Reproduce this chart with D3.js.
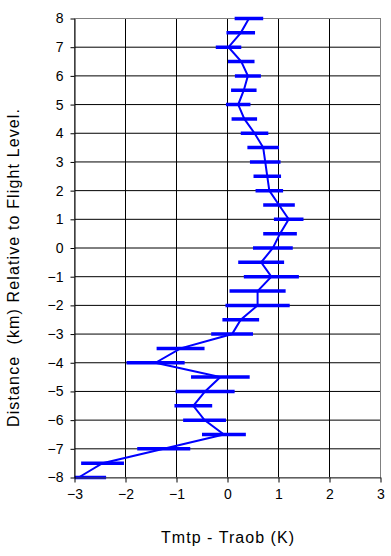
<!DOCTYPE html>
<html><head><meta charset="utf-8">
<script src="https://cdn.jsdelivr.net/npm/d3@7"></script>
<style>
html,body{margin:0;padding:0;background:#fff;}
svg{display:block;font-family:"Liberation Sans",Arial,sans-serif;}
</style></head>
<body><svg id="c" width="391" height="556"></svg>
<script>
// Distance (km) relative to flight level
const levels = [8,7.5,7,6.5,6,5.5,5,4.5,4,3.5,3,2.5,2,1.5,1,0.5,0,-0.5,-1,-1.5,-2,-2.5,-3,-3.5,-4,-4.5,-5,-5.5,-6,-6.5,-7,-7.5,-8];
// Mean Tmtp - Traob (K)
const meanDiff = [0.42,0.26,0.02,0.27,0.40,0.32,0.21,0.33,0.53,0.70,0.74,0.78,0.82,1.01,1.20,1.03,0.89,0.66,0.86,0.59,0.59,0.26,0.09,-0.92,-1.41,-0.14,-0.44,-0.67,-0.45,-0.07,-1.25,-2.45,-2.92];
// Half-width of the error bars (K)
const errHalf = [0.28,0.28,0.25,0.26,0.255,0.25,0.24,0.25,0.27,0.31,0.30,0.27,0.27,0.31,0.29,0.33,0.39,0.45,0.54,0.55,0.63,0.36,0.41,0.47,0.57,0.575,0.58,0.37,0.42,0.43,0.52,0.42,0.54];
const xTicks = [-3,-2,-1,0,1,2,3];
const yTicks = [-8,-7,-6,-5,-4,-3,-2,-1,0,1,2,3,4,5,6,7,8];

const svg = d3.select("#c");
const L=74.5, R=380.5, T=18.5, B=477.5;
const x = d3.scaleLinear().domain([-3,3]).range([L,R]);
const y = d3.scaleLinear().domain([-8,8]).range([B,T]);

// grid
const g = svg.append("g");
g.selectAll("line.v").data(xTicks.slice(1,-1)).join("line")
  .attr("x1",d=>x(d)).attr("x2",d=>x(d)).attr("y1",T).attr("y2",B)
  .attr("stroke","#000").attr("stroke-width",1);
g.selectAll("line.h").data(yTicks.slice(1,-1)).join("line")
  .attr("y1",d=>y(d)).attr("y2",d=>y(d)).attr("x1",L).attr("x2",R)
  .attr("stroke","#000").attr("stroke-width",1);
// border
svg.append("rect").attr("x",L).attr("y",T).attr("width",R-L).attr("height",B-T)
  .attr("fill","none").attr("stroke","#808080").attr("stroke-width",1);

// clip
svg.append("clipPath").attr("id","clip").append("rect")
  .attr("x",L).attr("y",T-6).attr("width",R-L).attr("height",B-T+12);

const data = levels.map((lv,i)=>({y:lv,x:meanDiff[i],e:errHalf[i]}));
const pg = svg.append("g").attr("clip-path","url(#clip)");
pg.append("path").datum(data)
  .attr("d", d3.line().x(d=>x(d.x)).y(d=>y(d.y)))
  .attr("fill","none").attr("stroke","#0000ff").attr("stroke-width",2);
pg.selectAll("line.eb").data(data).join("line")
  .attr("x1",d=>x(d.x-d.e)).attr("x2",d=>x(d.x+d.e))
  .attr("y1",d=>y(d.y)).attr("y2",d=>y(d.y))
  .attr("stroke","#0000ff").attr("stroke-width",3.5);

// axes
const ax = svg.append("g").attr("transform",`translate(0,${B})`)
  .call(d3.axisBottom(x).tickValues(xTicks).tickSize(5).tickSizeOuter(0).tickFormat(d3.format("d")));
ax.select(".domain").attr("stroke","#404040");
ax.selectAll(".tick line").attr("stroke","#000");
ax.selectAll("text").attr("font-size",14).attr("font-family","Liberation Sans, Arial, sans-serif").attr("fill","#000").attr("dy","0.95em");

const ay = svg.append("g").attr("transform",`translate(${L},0)`)
  .call(d3.axisLeft(y).tickValues(yTicks).tickSize(4).tickSizeOuter(0).tickFormat(d3.format("d")));
ay.select(".domain").attr("stroke","#000");
ay.selectAll(".tick line").attr("stroke","#000");
ay.selectAll("text").attr("font-size",14).attr("font-family","Liberation Sans, Arial, sans-serif").attr("fill","#000").attr("x",-11);

// titles
svg.append("text").attr("x",(L+R)/2).attr("y",543).attr("text-anchor","middle")
  .attr("font-size",16).attr("fill","#000")
  .attr("textLength",133).attr("lengthAdjust","spacing").text("Tmtp - Traob (K)");
svg.append("text").attr("transform","translate(19,268) rotate(-90)").attr("text-anchor","middle")
  .attr("font-size",16).attr("fill","#000").style("white-space","pre")
  .attr("textLength",318).attr("lengthAdjust","spacing")
  .text("Distance  (km) Relative to Flight Level.");
</script></body></html>
